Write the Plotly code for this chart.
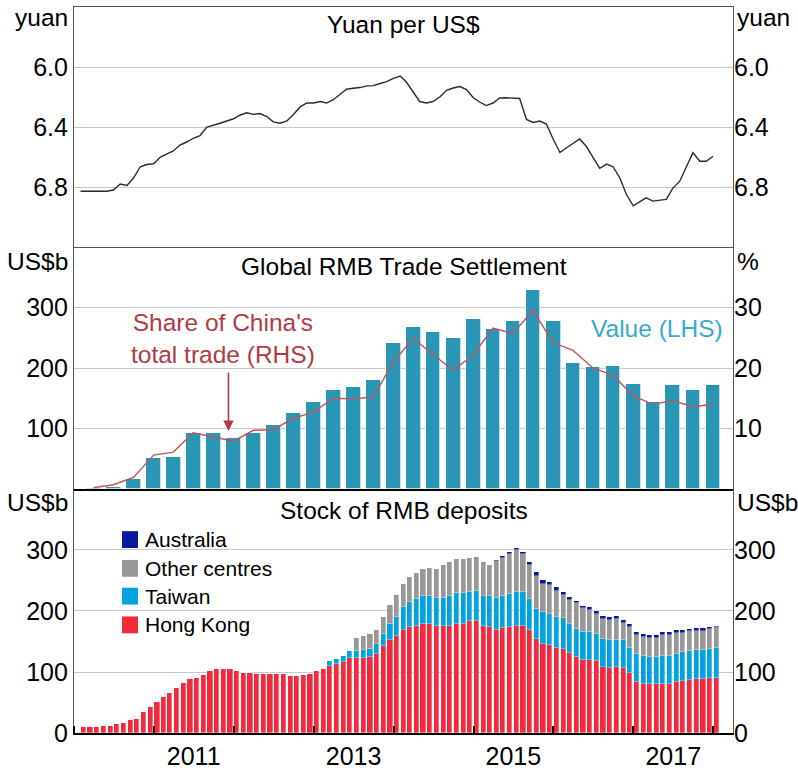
import plotly.graph_objects as go
import pandas as pd

# ---------------- data ----------------
fx_dates = pd.date_range('2010-01-31', periods=96, freq=pd.offsets.MonthEnd())
cny_per_usd = [
    6.828, 6.828, 6.828, 6.828, 6.828, 6.82, 6.78, 6.79, 6.74, 6.665, 6.65, 6.645,
    6.60, 6.58, 6.56, 6.52, 6.50, 6.475, 6.457, 6.40, 6.39, 6.375, 6.36, 6.345,
    6.32, 6.305, 6.316, 6.31, 6.33, 6.366, 6.375, 6.36, 6.316, 6.266, 6.24, 6.24,
    6.23, 6.24, 6.218, 6.185, 6.148, 6.142, 6.137, 6.126, 6.124, 6.11, 6.098, 6.076,
    6.06, 6.10, 6.17, 6.23, 6.24, 6.23, 6.20, 6.155, 6.14, 6.13, 6.15, 6.205,
    6.235, 6.257, 6.24, 6.207, 6.205, 6.207, 6.21, 6.35, 6.37, 6.36, 6.38, 6.48,
    6.57, 6.54, 6.51, 6.48, 6.53, 6.60, 6.675, 6.647, 6.665, 6.74, 6.85, 6.925,
    6.898, 6.872, 6.894, 6.889, 6.883, 6.807, 6.763, 6.665, 6.571, 6.628, 6.628, 6.595,
]

q_dates = pd.date_range('2010-03-31', periods=32, freq=pd.offsets.QuarterEnd())
settlement_value = [
    1, 4, 16, 51, 53, 92, 92, 84,
    92, 105, 126, 144, 163, 169, 180, 242,
    267, 260, 249, 281, 265, 277, 329, 277,
    208, 201, 204, 174, 143, 172, 164, 172,
]
settlement_share = [
    0.2, 0.7, 1.9, 5.6, 6.1, 9.3, 8.6, 7.9,
    9.7, 9.8, 11.7, 12.7, 15.0, 14.9, 15.2, 21.0,
    24.9, 22.2, 19.6, 22.2, 26.6, 25.7, 29.5, 24.2,
    22.9, 20.0, 18.8, 15.4, 14.0, 14.6, 13.6, 14.0,
]

dep_dates = [pd.Timestamp(2010, 2, 15) + pd.DateOffset(months=i) for i in range(96)]
hong_kong = [
    10, 10, 10, 12, 12, 14, 17, 21, 23, 34, 43,
    51, 59, 66, 73, 82, 89, 91, 95, 101, 105, 105, 105,
    101, 98, 98, 96, 96, 96, 96, 96, 94, 94, 95, 97, 101, 105,
    110, 113, 117, 123, 123, 123, 124, 130, 143, 152, 159,
    169, 174, 176, 179, 179, 175, 176, 176, 179, 179, 183, 183, 176, 174, 169,
    172, 174, 176, 176, 169, 154, 146, 145, 140, 137, 131, 124, 120, 120, 118, 109,
    106, 109, 106, 98, 84, 81, 80, 80, 81, 81, 84, 86, 87, 88, 88, 90, 90,
]
taiwan = [0] * 37 + [
    8, 9, 9, 11, 11, 13.5, 14, 16, 19.6, 27, 31,
    37, 40, 43, 45, 45, 46, 45, 48, 50, 50, 48, 49, 49, 50, 52,
    52, 54, 55, 55, 50, 50, 52, 50, 50, 51, 48, 46, 46, 46, 45, 45, 47,
    44, 46, 41, 46, 45, 44, 44, 45, 45, 46, 46, 47, 48, 48, 48, 50,
]
other_centres = [0] * 41 + [
    22, 22, 25, 23, 27, 31, 36,
    38.5, 41.5, 44, 45, 47, 48, 55, 57, 56, 56, 56, 57, 56, 52, 61,
    63, 66, 69, 62, 57, 54, 46.5, 47, 43.5, 37.5, 39, 43, 39, 36, 32, 33,
    32, 34, 29, 34, 30, 31, 31.5, 31.5, 35, 35, 34, 32, 33, 32, 32, 32, 33,
]
australia = [0] * 62 + [
    1.5, 3, 3, 3, 3, 5, 6, 6, 6, 6, 6, 5, 4, 4, 4, 5, 5,
    5, 5, 5, 5, 5, 4.5, 5, 5, 4.5, 4.5, 5, 5, 3, 4, 4, 3.5, 3,
]

year_label_dates = ['2011-07-02', '2013-07-02', '2015-07-02', '2017-07-02']
year_labels = ['2011', '2013', '2015', '2017']

# ---------------- style ----------------
FONT = 'Arial, Liberation Sans, sans-serif'
FS = 24.5
TFS = 25
GRID = '#c8c8c8'
FRAME = '#555555'
XRANGE = ['2010-01-01', '2018-04-01']
MONTH_MS = 30.4 * 24 * 3600 * 1000
Q_MS = 91.3 * 24 * 3600 * 1000

fig = go.Figure()

# Top panel: exchange rate
fig.add_trace(go.Scatter(x=fx_dates, y=cny_per_usd, mode='lines',
                         line=dict(color='#2b2b2b', width=1.4),
                         xaxis='x', yaxis='y', showlegend=False, hoverinfo='skip'))
fig.add_trace(go.Scatter(x=[fx_dates[0]], y=[cny_per_usd[0]], mode='markers',
                         marker=dict(opacity=0), xaxis='x', yaxis='y2',
                         showlegend=False, hoverinfo='skip'))

# Middle panel: trade settlement
fig.add_trace(go.Bar(x=q_dates, y=settlement_value, width=Q_MS * 0.74,
                     marker=dict(color='#2a96b5', line=dict(color='rgba(255,255,255,0.7)', width=1)),
                     xaxis='x2', yaxis='y3', showlegend=False, hoverinfo='skip'))
fig.add_trace(go.Scatter(x=q_dates, y=settlement_share, mode='lines',
                         line=dict(color='#c0545e', width=1.4),
                         xaxis='x2', yaxis='y4', showlegend=False, hoverinfo='skip'))

# Bottom panel: deposits (stacked)
dep_series = [
    ('Hong Kong', hong_kong, '#f42a3c'),
    ('Taiwan', taiwan, '#00a2e0'),
    ('Other centres', other_centres, '#989898'),
    ('Australia', australia, '#0a18a0'),
]
for name, vals, col in dep_series:
    fig.add_trace(go.Bar(x=dep_dates, y=vals, name=name, width=MONTH_MS * 0.78,
                         marker=dict(color=col, line=dict(color='rgba(255,255,255,0.55)', width=0.6)),
                         xaxis='x3', yaxis='y5', showlegend=False, hoverinfo='skip'))
fig.add_trace(go.Scatter(x=[dep_dates[0]], y=[0], mode='markers',
                         marker=dict(opacity=0), xaxis='x3', yaxis='y6',
                         showlegend=False, hoverinfo='skip'))

D_TOP = [0.6694, 1.0]
D_MID = [0.3361, 0.6694]
D_BOT = [0.0, 0.3361]

xcommon = dict(type='date', range=XRANGE, showgrid=False, zeroline=False, fixedrange=True)

yleft = dict(showgrid=True, gridcolor=GRID, gridwidth=1, zeroline=False, ticks='',
             tickfont=dict(family=FONT, size=TFS, color='black'),
             showline=True, linecolor=FRAME, linewidth=1.2, mirror=True, fixedrange=True)
yright = dict(showgrid=False, zeroline=False, ticks='', side='right',
              tickfont=dict(family=FONT, size=TFS, color='black'), showline=False, fixedrange=True)

fig.update_layout(
    width=798, height=776,
    margin=dict(l=74, r=65, t=6, b=38),
    paper_bgcolor='white', plot_bgcolor='white',
    barmode='stack', bargap=0,
    font=dict(family=FONT, size=FS, color='black'),
    xaxis=dict(**xcommon, anchor='y', showticklabels=False, showline=True,
               linecolor=FRAME, linewidth=1.2, mirror=True, ticks=''),
    xaxis2=dict(**xcommon, anchor='y3', showticklabels=False, showline=True,
                linecolor='black', linewidth=2.4, mirror=False, ticks=''),
    xaxis3=dict(**xcommon, anchor='y5', showline=True, linecolor='black', linewidth=1.8,
                mirror=False, tickmode='array', tickvals=year_label_dates, ticktext=year_labels,
                ticks='', tickfont=dict(family=FONT, size=TFS, color='black'),
                minor=dict(tick0='2010-01-01', dtick='M12', ticks='inside', ticklen=7,
                           tickwidth=2, tickcolor='black', showgrid=False)),
    yaxis=dict(**yleft, domain=D_TOP, anchor='x', range=[7.2, 5.6],
               tickvals=[6.0, 6.4, 6.8], ticktext=['6.0', '6.4', '6.8']),
    yaxis2=dict(**yright, overlaying='y', anchor='x', range=[7.2, 5.6],
                tickvals=[6.0, 6.4, 6.8], ticktext=['6.0', '6.4', '6.8']),
    yaxis3=dict(**yleft, domain=D_MID, anchor='x2', range=[0, 400], tickvals=[100, 200, 300]),
    yaxis4=dict(**yright, overlaying='y3', anchor='x2', range=[0, 40], tickvals=[10, 20, 30]),
    yaxis5=dict(**yleft, domain=D_BOT, anchor='x3', range=[0, 400], tickvals=[0, 100, 200, 300]),
    yaxis6=dict(**yright, overlaying='y5', anchor='x3', range=[0, 400], tickvals=[0, 100, 200, 300]),
)

ann = []


def paper_text(text, x, y, xanchor='center', size=FS, color='black'):
    ann.append(dict(text=text, x=x, y=y, xref='paper', yref='paper', xanchor=xanchor,
                    yanchor='middle', showarrow=False,
                    font=dict(family=FONT, size=size, color=color)))


# panel titles
paper_text('Yuan per US$', 0.5, (738 - 24) / 732)
paper_text('Global RMB Trade Settlement', 0.5, (738 - 268) / 732)
paper_text('Stock of RMB deposits', 0.5, (738 - 514) / 732)

# unit labels
LX = (70 - 74) / 659
RX = (735 - 74) / 659
paper_text('yuan', LX, (738 - 17) / 732, xanchor='right')
paper_text('yuan', RX, (738 - 17) / 732, xanchor='left')
paper_text('US$b', LX, (738 - 263) / 732, xanchor='right')
paper_text('%', RX, (738 - 263) / 732, xanchor='left')
paper_text('US$b', LX, (738 - 506) / 732, xanchor='right')
paper_text('US$b', RX, (738 - 506) / 732, xanchor='left')

# middle panel labels
ann.append(dict(text="Share of China's<br>total trade (RHS)", x=(223 - 74) / 659,
                y=(738 - 340) / 732, xref='paper', yref='paper', xanchor='center',
                yanchor='middle', showarrow=False, align='center',
                font=dict(family=FONT, size=FS, color='#b23a44')))
ann.append(dict(text='', x='2011-12-08', y=9.6, xref='x2', yref='y4',
                showarrow=True, ax=0, ay=-60, arrowhead=2, arrowsize=1.3,
                arrowwidth=1.6, arrowcolor='#b23a44'))
paper_text('Value (LHS)', (657 - 74) / 659, (738 - 330) / 732, color='#3aa8d0')

# legend (bottom panel)
legend_items = [('Australia', '#0a18a0', 543), ('Other centres', '#989898', 572),
                ('Taiwan', '#00a2e0', 600), ('Hong Kong', '#f42a3c', 629)]
shapes = []
for label, col, py in legend_items:
    shapes.append(dict(type='rect', xref='paper', yref='paper',
                       x0=(122 - 74) / 659, x1=(138 - 74) / 659,
                       y0=(738 - (py + 8.5)) / 732, y1=(738 - (py - 8.5)) / 732,
                       fillcolor=col, line=dict(width=0)))
    paper_text(label, (143 - 74) / 659, (738 - py) / 732, xanchor='left', size=21)

fig.update_layout(annotations=ann, shapes=shapes)

fig.write_html('out.html', config={'displayModeBar': False},
               post_script="document.body.style.margin='0';document.body.style.padding='0';")
